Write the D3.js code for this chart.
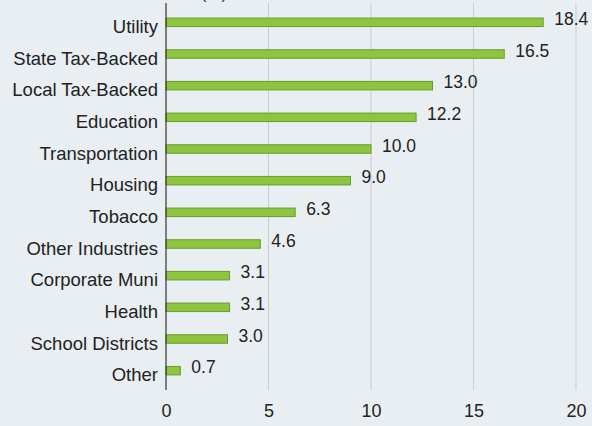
<!DOCTYPE html>
<html>
<head>
<meta charset="utf-8">
<script src="https://cdn.jsdelivr.net/npm/d3@7"></script>
<style>
  body { margin: 0; background: #e9eef2; }
  svg { display: block; font-family: "Liberation Sans", Arial, sans-serif; }
</style>
</head>
<body>
<div id="chart"></div>
<script>
const categories = ["Utility", "State Tax-Backed", "Local Tax-Backed", "Education", "Transportation",
    "Housing", "Tobacco", "Other Industries", "Corporate Muni", "Health", "School Districts", "Other"];
const values = [18.4, 16.5, 13.0, 12.2, 10.0, 9.0, 6.3, 4.6, 3.1, 3.1, 3.0, 0.7];
const xTicks = [0, 5, 10, 15, 20];

const width = 592, height = 426;
const data = categories.map((c, i) => ({ cat: c, val: values[i] }));

const svg = d3.select("#chart").append("svg")
    .attr("width", width)
    .attr("height", height);

svg.append("rect").attr("width", width).attr("height", height).attr("fill", "#e9eef2");

const x = d3.scaleLinear().domain([0, 20]).range([166, 576]);
const y = d3.scaleBand().domain(categories).range([6.5, 386.5]);
const barH = 8.5;
const plotTop = 3, plotBottom = 390;

// title, cut off by the top edge as in the source image
svg.append("text")
    .attr("x", 214).attr("y", -1)
    .attr("text-anchor", "middle")
    .attr("font-size", 17)
    .attr("fill", "#333")
    .text("(%)");

// gridlines
svg.append("g").selectAll("line")
    .data(xTicks.slice(1))
    .enter().append("line")
    .attr("x1", d => x(d)).attr("x2", d => x(d))
    .attr("y1", plotTop).attr("y2", plotBottom)
    .attr("stroke", "#c9cdd1")
    .attr("stroke-width", 1);

// bars
svg.append("g").selectAll("rect")
    .data(data)
    .enter().append("rect")
    .attr("x", x(0))
    .attr("y", d => y(d.cat) + y.bandwidth() / 2 - barH / 2)
    .attr("width", d => x(d.val) - x(0))
    .attr("height", barH)
    .attr("fill", "#8cc63f")
    .attr("stroke", "#6a9a2c")
    .attr("stroke-width", 1);

// value labels
svg.append("g").selectAll("text")
    .data(data)
    .enter().append("text")
    .attr("x", d => x(d.val) + 11)
    .attr("y", d => y(d.cat) + y.bandwidth() / 2 + 2.5)
    .attr("font-size", 17.5)
    .attr("fill", "#222")
    .text(d => d.val.toFixed(1));

// category labels
svg.append("g").selectAll("text")
    .data(data)
    .enter().append("text")
    .attr("x", 158)
    .attr("y", d => y(d.cat) + y.bandwidth() / 2 + 10.5)
    .attr("text-anchor", "end")
    .attr("font-size", 18.5)
    .attr("fill", "#222")
    .text(d => d.cat);

// y axis line
svg.append("line")
    .attr("x1", x(0)).attr("x2", x(0))
    .attr("y1", plotTop).attr("y2", plotBottom)
    .attr("stroke", "#333")
    .attr("stroke-width", 1.2);

// x tick labels
const xAxis = d3.axisBottom(x).tickValues(xTicks).tickSize(0).tickPadding(0);
const gx = svg.append("g")
    .attr("transform", `translate(0,${plotBottom + 9})`)
    .call(xAxis);
gx.select(".domain").remove();
gx.selectAll("text")
    .attr("font-size", 18)
    .attr("font-family", "Liberation Sans, Arial, sans-serif")
    .attr("fill", "#222")
    .attr("dy", "1em");
</script>
</body>
</html>
